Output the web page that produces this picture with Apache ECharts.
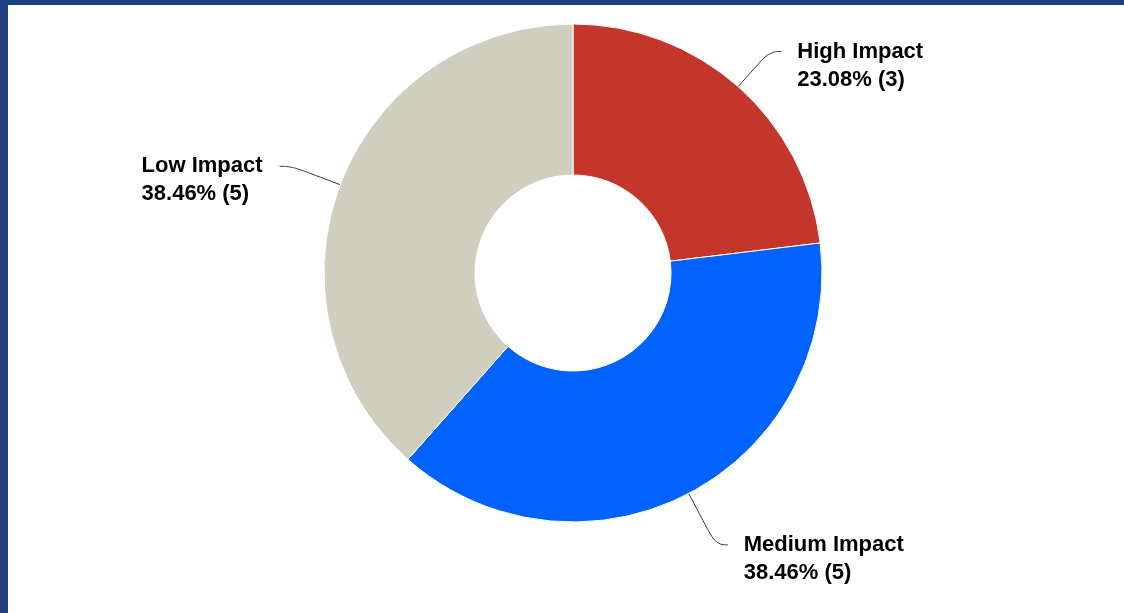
<!DOCTYPE html>
<html>
<head>
<meta charset="utf-8">
<script src="https://cdn.jsdelivr.net/npm/echarts@6/dist/echarts.min.js"></script>
<style>
	html,body{margin:0;padding:0;width:100%;height:100%;background:#1f4082;overflow:hidden;}
	.frame{position:absolute;left:8px;top:5px;right:0;bottom:0;background:#fff;}
	#impactPie{width:100%;height:100%;}
</style>
</head>
<body>
<div class="frame"><div id="impactPie"></div></div>
<script>
	// impact breakdown
	var categories = ['High Impact', 'Medium Impact', 'Low Impact'];
	var counts = [3, 5, 5];
	var colors = ['#c4352b', '#0062ff', '#d0cfbf'];
	var lineLengths = [47, 58, 52];

	var labelFont = 'bold 22px "Liberation Sans", Arial, sans-serif';
	var total = counts.reduce(function (a, b) { return a + b; }, 0);

	function lines(i) {
		return [categories[i], (counts[i] / total * 100).toFixed(2) + '% (' + counts[i] + ')'];
	}
	// width of the widest line, so both lines start at the same x
	var ctx = document.createElement('canvas').getContext('2d');
	ctx.font = labelFont;
	function blockWidth(i) {
		return Math.ceil(Math.max.apply(null, lines(i).map(function (t) { return ctx.measureText(t).width; })));
	}

	var chart = echarts.init(document.getElementById('impactPie'));
	var pieData = categories.map(function (name, i) {
		return {
			name: name,
			value: counts[i],
			itemStyle: {color: colors[i]},
			label: {rich: {a: {width: blockWidth(i)}}},
			labelLine: {length: lineLengths[i]}
		};
	});
	var option = {
		animation: false,
		series: [{
			type: 'pie',
			center: [565, 268],
			radius: [98, 249],
			startAngle: 90,
			clockwise: true,
			avoidLabelOverlap: false,
			itemStyle: {borderColor: '#fff', borderWidth: 1},
			label: {
				show: true,
				formatter: function (p) {
					var l = lines(p.dataIndex);
					// blank first line keeps the name level with the line end
					return '{a| }\n{a|' + l[0] + '}\n{a|' + l[1] + '}';
				},
				rich: {
					a: {
						color: '#000',
						fontFamily: '"Liberation Sans", Arial, sans-serif',
						fontWeight: 'bold',
						fontSize: 22,
						lineHeight: 28,
						align: 'left'
					}
				},
				distanceToLabelLine: 16
			},
			labelLine: {
				show: true,
				length: 52,
				length2: 12,
				smooth: 0.5,
				lineStyle: {color: '#333', width: 1}
			},
			emphasis: {disabled: true},
			data: pieData
		}]
	};
	chart.setOption(option);
</script>
</body>
</html>
